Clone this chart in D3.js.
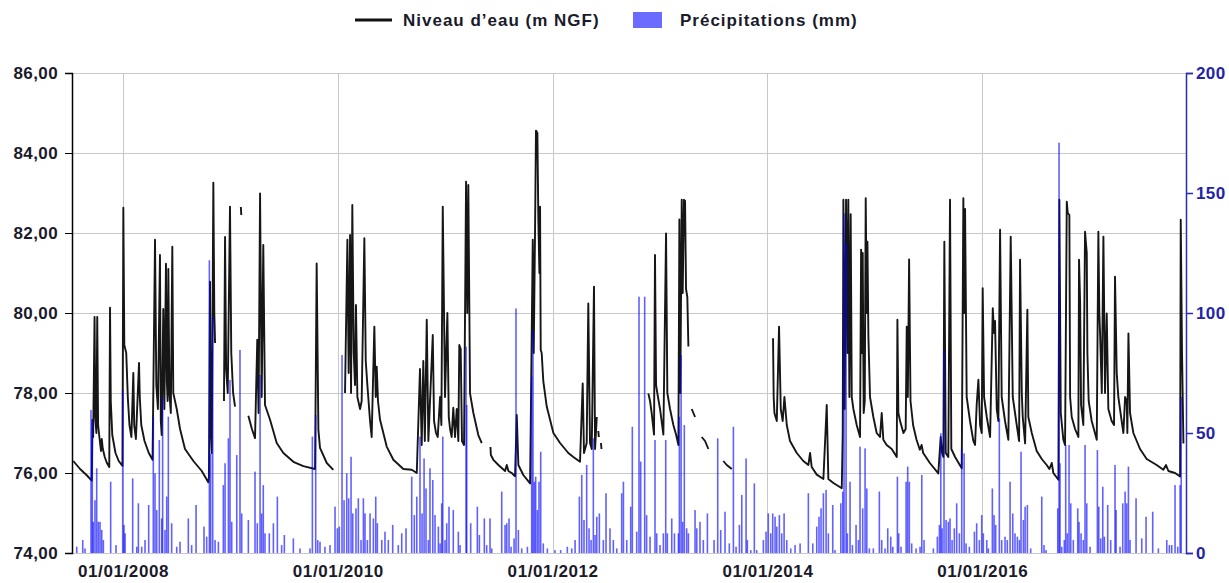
<!DOCTYPE html>
<html>
<head>
<meta charset="utf-8">
<script src="https://cdn.jsdelivr.net/npm/d3@7/dist/d3.min.js"></script>
<style>
    html, body { margin: 0; padding: 0; background: #fff; }
    #graph { width: 1229px; height: 583px; }
    text { font-family: 'Liberation Sans', Arial, sans-serif; font-weight: bold; }
</style>
</head>
<body>
<div id="graph"></div>
<script>
// x values are decimal years
const yearTicks = [2008, 2010, 2012, 2014, 2016];
const levelTicks = [74, 76, 78, 80, 82, 84, 86];
const rainTicks = [0, 50, 100, 150, 200];
const legendLabels = ['Niveau d\u2019eau (m NGF)', 'Pr\u00e9cipitations (mm)'];

// water level (m NGF), null = gap in the record
const levelData = [
    [2007.537,76.30],[2007.60,76.10],[2007.66,75.95],[2007.709,75.81],
    [2007.716,77.33],[2007.722,76.9],[2007.735,79.90],[2007.742,77.4],[2007.752,77.0],[2007.760,79.90],[2007.768,77.2],
    [2007.780,76.9],[2007.795,76.55],[2007.802,76.85],[2007.812,76.6],[2007.83,76.4],[2007.85,76.25],[2007.872,76.15],
    [2007.879,80.13],[2007.886,77.8],[2007.90,76.95],[2007.93,76.5],[2007.96,76.3],[2007.995,76.18],
    [2008.003,82.63],[2008.012,79.2],[2008.030,79.0],[2008.045,77.87],[2008.06,77.2],[2008.078,76.9],[2008.096,78.50],
    [2008.104,77.2],[2008.12,76.85],[2008.149,78.75],[2008.156,77.9],[2008.17,77.2],[2008.20,76.8],[2008.24,76.5],[2008.275,76.33],
    [2008.298,81.83],[2008.31,78.2],[2008.325,77.6],[2008.344,81.45],[2008.352,77.3],[2008.360,76.95],[2008.375,80.1],
    [2008.385,77.6],[2008.400,81.23],[2008.408,78.3],[2008.415,77.8],[2008.422,81.1],[2008.432,78.0],[2008.445,77.5],
    [2008.459,81.66],[2008.468,78.0],[2008.50,77.6],[2008.531,77.1],[2008.577,76.6],[2008.655,76.3],[2008.733,76.05],[2008.794,75.77],
    [2008.800,75.9],[2008.810,80.78],[2008.818,77.0],[2008.826,76.5],[2008.841,83.26],[2008.850,80.0],[2008.857,79.25],
    null,
    [2008.940,77.8],[2008.950,81.9],[2008.960,78.6],[2008.975,78.0],[2008.996,82.66],[2009.008,79.0],[2009.025,78.0],[2009.043,77.66],
    null,
    [2009.097,82.65],[2009.101,82.45],
    null,
    [2009.167,77.43],[2009.20,77.1],[2009.229,76.87],[2009.250,79.33],[2009.262,77.5],[2009.276,82.99],[2009.291,77.9],
    [2009.306,81.7],[2009.322,77.7],[2009.369,77.33],[2009.431,76.75],[2009.493,76.5],[2009.586,76.28],[2009.679,76.17],
    [2009.788,76.1],[2009.803,81.24],[2009.819,77.08],[2009.834,76.63],[2009.897,76.25],[2009.958,76.08],
    null,
    [2010.067,78.0],[2010.089,81.83],[2010.101,78.5],[2010.114,81.95],[2010.123,78.0],[2010.135,82.7],[2010.148,79.0],
    [2010.160,78.2],[2010.169,80.2],[2010.182,77.9],[2010.207,77.6],[2010.222,77.8],[2010.247,81.87],[2010.260,78.8],
    [2010.275,78.2],[2010.300,77.3],[2010.315,76.9],[2010.340,79.66],[2010.353,77.9],[2010.362,78.66],[2010.374,77.8],
    [2010.393,77.33],[2010.455,76.66],[2010.517,76.33],[2010.610,76.1],[2010.688,76.08],[2010.735,76.0],
    [2010.765,78.6],[2010.781,76.7],[2010.796,78.8],[2010.810,76.8],[2010.828,79.83],[2010.843,76.8],[2010.884,79.45],
    [2010.896,77.3],[2010.914,77.0],[2010.930,76.9],[2010.952,77.9],[2010.964,77.2],[2010.977,82.66],[2010.998,77.9],
    [2011.020,80.0],[2011.033,77.4],[2011.045,77.1],[2011.060,76.9],[2011.075,77.63],[2011.091,76.9],[2011.107,77.6],
    [2011.122,76.8],[2011.131,79.2],[2011.144,79.1],[2011.156,76.8],[2011.175,76.7],[2011.194,83.28],[2011.205,80.0],
    [2011.215,83.2],[2011.231,77.99],[2011.262,77.5],[2011.308,76.95],[2011.340,76.75],
    null,
    [2011.421,76.65],[2011.425,76.45],[2011.448,76.33],[2011.495,76.2],[2011.557,76.05],[2011.573,76.2],[2011.588,76.05],
    [2011.619,76.0],[2011.650,75.92],[2011.666,77.45],[2011.681,76.2],[2011.727,75.95],[2011.790,75.74],[2011.815,81.83],
    [2011.824,79.0],[2011.836,82.0],[2011.845,84.56],[2011.858,84.5],[2011.867,82.33],[2011.877,81.0],[2011.883,82.66],
    [2011.889,79.08],[2011.898,79.0],[2011.913,78.3],[2011.945,77.66],[2012.007,77.0],[2012.069,76.75],[2012.146,76.5],
    [2012.193,76.4],[2012.255,76.28],[2012.280,78.24],[2012.292,76.5],[2012.317,76.75],[2012.332,80.24],[2012.348,76.75],
    [2012.364,76.6],[2012.385,80.66],[2012.395,76.6],[2012.411,77.4],
    null,
    [2012.425,77.05],[2012.430,76.9],
    null,
    [2012.450,76.75],[2012.455,76.6],
    null,
    [2012.891,77.99],[2012.907,77.8],[2012.922,77.5],[2012.944,76.96],[2012.953,81.45],[2012.963,78.2],[2012.975,77.99],
    [2013.000,77.6],[2013.031,76.96],[2013.056,81.99],[2013.068,78.0],[2013.093,77.6],[2013.124,77.2],[2013.149,76.96],
    [2013.171,76.7],[2013.180,82.34],[2013.189,78.0],[2013.202,82.83],[2013.211,80.5],[2013.223,82.83],[2013.233,82.8],
    [2013.242,80.6],[2013.254,80.4],[2013.264,79.16],
    null,
    [2013.295,77.6],[2013.326,77.4],
    null,
    [2013.388,76.9],[2013.419,76.8],[2013.450,76.6],
    null,
    [2013.589,76.3],[2013.621,76.2],[2013.668,76.1],
    null,
    [2014.052,79.37],[2014.058,77.9],[2014.065,77.5],[2014.087,77.3],[2014.108,79.66],[2014.124,77.6],[2014.142,77.3],
    [2014.158,77.9],[2014.180,77.2],[2014.210,76.8],[2014.273,76.5],[2014.334,76.3],[2014.381,76.2],[2014.397,76.5],
    [2014.412,76.15],[2014.459,75.96],[2014.521,75.85],[2014.552,77.7],[2014.567,75.85],[2014.614,75.75],[2014.692,75.62],
    [2014.701,77.0],[2014.707,82.83],[2014.719,77.6],[2014.732,82.83],[2014.744,79.0],[2014.753,82.83],[2014.763,77.9],
    [2014.775,82.47],[2014.785,77.9],[2014.800,77.6],[2014.831,77.2],[2014.862,76.9],[2014.872,81.58],[2014.881,79.0],
    [2014.887,81.5],[2014.896,77.5],[2014.906,77.8],[2014.915,82.87],[2014.925,80.0],[2014.931,81.78],[2014.940,79.4],
    [2014.955,77.9],[2014.986,77.4],[2015.017,77.0],[2015.048,76.9],[2015.064,77.5],[2015.079,76.83],[2015.110,76.7],
    [2015.157,76.6],[2015.204,76.4],[2015.210,79.83],[2015.219,77.5],[2015.235,77.3],[2015.266,77.0],[2015.287,77.1],
    [2015.297,79.66],[2015.307,77.9],[2015.319,81.34],[2015.332,77.8],[2015.356,77.2],[2015.388,76.83],[2015.419,76.58],
    [2015.435,76.7],[2015.450,76.5],[2015.512,76.25],[2015.591,75.99],[2015.613,76.9],[2015.626,76.5],[2015.638,76.4],
    [2015.647,81.78],[2015.660,76.5],[2015.684,76.4],[2015.700,82.83],[2015.712,76.6],[2015.747,76.4],[2015.809,76.12],
    [2015.824,82.87],[2015.833,80.0],[2015.840,82.6],[2015.855,77.9],[2015.886,77.3],[2015.917,76.8],[2015.933,76.7],
    [2015.948,77.7],[2015.964,78.33],[2015.980,77.2],[2015.995,77.0],[2016.004,80.62],[2016.017,77.9],[2016.042,77.4],
    [2016.073,76.9],[2016.098,80.12],[2016.110,79.5],[2016.119,79.8],[2016.135,77.6],[2016.150,77.3],[2016.166,82.08],
    [2016.181,77.9],[2016.212,77.3],[2016.243,76.83],[2016.265,81.91],[2016.284,77.9],[2016.321,77.2],[2016.343,76.8],
    [2016.352,81.33],[2016.368,78.0],[2016.377,77.4],[2016.399,76.74],[2016.420,80.08],[2016.429,77.4],[2016.461,77.0],
    [2016.507,76.55],[2016.554,76.35],[2016.600,76.2],[2016.625,76.1],[2016.647,76.25],[2016.662,76.0],[2016.709,75.83],
    [2016.718,82.83],[2016.731,77.5],[2016.755,76.83],[2016.771,76.7],[2016.787,82.78],[2016.796,82.5],[2016.811,82.45],
    [2016.818,77.9],[2016.833,77.4],[2016.864,77.1],[2016.895,76.9],[2016.901,81.33],[2016.911,80.3],[2016.920,77.7],
    [2016.941,77.2],[2016.957,82.03],[2016.973,81.5],[2016.979,79.0],[2016.991,77.8],[2017.019,77.3],[2017.066,76.83],
    [2017.081,82.03],[2017.090,80.0],[2017.097,79.49],[2017.113,78.0],[2017.128,81.91],[2017.143,78.0],[2017.159,79.99],
    [2017.174,77.6],[2017.205,77.3],[2017.227,77.2],[2017.236,80.91],[2017.252,78.5],[2017.267,77.9],[2017.298,77.3],
    [2017.314,77.0],[2017.330,77.9],[2017.345,77.8],[2017.351,77.0],[2017.361,79.49],[2017.376,77.5],[2017.407,77.0],
    [2017.469,76.6],[2017.531,76.35],[2017.624,76.2],[2017.686,76.08],[2017.711,76.2],[2017.733,76.05],[2017.795,76.0],
    [2017.842,75.91],[2017.848,82.33],[2017.860,79.0],[2017.873,76.74]
];

// daily rain (mm)
const rainData = [
    [2007.569,2.6],[2007.625,5.4],[2007.646,1.9],[2007.702,59.6],[2007.714,55.4],[2007.723,13],[2007.739,22],[2007.755,35.3],
    [2007.770,13],[2007.786,13],[2007.802,9.6],[2007.817,5.4],[2007.885,29.7],[2007.935,3.3],[2007.997,67.9],
    [2008.009,11.7],[2008.019,8.2],[2008.090,31.1],[2008.128,2.6],[2008.143,20.7],[2008.174,2.6],[2008.205,5.4],[2008.239,20],
    [2008.282,56.8],[2008.298,33.2],[2008.314,17.9],[2008.338,47.1],[2008.360,14.4],[2008.369,65.1],[2008.391,9.6],
    [2008.407,23.5],[2008.422,56.8],[2008.453,12.4],[2008.500,2.6],[2008.531,4.7],[2008.608,14.4],[2008.639,3.3],[2008.680,20],
    [2008.754,11],[2008.779,6.8],[2008.804,122],[2008.816,41.5],[2008.835,98.5],[2008.857,5.4],[2008.888,4.7],[2008.934,28.3],
    [2008.950,37.4],[2008.981,47.8],[2008.996,72.1],
    [2009.012,13],[2009.059,40.8],[2009.089,84.6],[2009.105,16.5],[2009.167,13.75],[2009.229,33.9],[2009.250,12.4],
    [2009.276,74.2],[2009.291,16.5],[2009.306,28.3],[2009.322,8.2],[2009.362,8.2],[2009.400,12.4],[2009.437,23.5],
    [2009.477,3.3],[2009.502,7.5],[2009.586,6.1],[2009.648,1.9],[2009.741,1.9],[2009.763,48.5],[2009.794,57.5],
    [2009.813,5.4],[2009.834,4.7],[2009.880,2.6],[2009.927,3.3],[2009.974,19.3],[2009.996,10.3],
    [2010.014,11],[2010.039,82.5],[2010.058,22],[2010.083,33.2],[2010.101,22.8],[2010.123,40.1],[2010.139,16.5],
    [2010.169,18.6],[2010.191,22.8],[2010.216,5.4],[2010.238,22.8],[2010.253,16.5],[2010.275,5.4],[2010.300,16.5],
    [2010.331,14.4],[2010.353,23.5],[2010.368,12.4],[2010.409,5.4],[2010.439,8.9],[2010.470,5.4],[2010.511,11.7],
    [2010.563,3.3],[2010.595,8.2],[2010.635,10.3],[2010.688,31.8],[2010.712,15.8],[2010.735,23.5],[2010.765,48.5],
    [2010.784,16.5],[2010.803,39.4],[2010.821,26.9],[2010.843,5.4],[2010.858,35.3],[2010.884,30.4],[2010.905,15.8],
    [2010.936,11],[2010.952,4],[2010.967,20.7],[2010.977,48.5],[2010.998,5.4],
    [2011.014,12.4],[2011.035,19.3],[2011.075,17.9],[2011.122,8.9],[2011.138,3.3],[2011.194,86],[2011.200,61.7],
    [2011.237,12.4],[2011.299,19.3],[2011.318,7.5],[2011.364,14.4],[2011.386,3.3],[2011.417,14.4],[2011.433,1.9],
    [2011.526,25.6],[2011.557,11.7],[2011.573,12.4],[2011.594,14.4],[2011.613,2.6],[2011.641,6.1],[2011.659,101.9],
    [2011.681,9.6],[2011.712,1.9],[2011.765,2.6],[2011.805,73.5],[2011.817,92.9],[2011.830,29.7],[2011.842,31.8],
    [2011.858,17.9],[2011.873,29.7],[2011.889,42.2],[2011.913,4],[2011.951,1.9],
    [2012.022,1.2],[2012.075,1.2],[2012.137,2.6],[2012.178,1.9],[2012.209,5.4],[2012.249,23.5],[2012.271,32.5],
    [2012.292,13.75],[2012.317,36.7],[2012.339,10.3],[2012.358,5.4],[2012.379,47.8],[2012.395,7.5],[2012.411,15.1],
    [2012.435,16.5],[2012.472,5.4],[2012.497,24.9],[2012.534,10.3],[2012.565,5.4],[2012.597,1.9],[2012.643,24.9],
    [2012.659,29.7],[2012.690,5.4],[2012.727,19.3],[2012.742,52.6],[2012.783,8.9],[2012.804,106.8],[2012.820,38.1],
    [2012.857,106.8],[2012.875,15.8],[2012.907,6.8],[2012.953,47.1],[2012.969,8.2],
    [2013.000,3.3],[2013.031,8.2],[2013.053,47.1],[2013.068,8.2],[2013.109,14.4],[2013.134,8.2],[2013.171,8.2],
    [2013.180,56.8],[2013.196,82.5],[2013.211,13],[2013.226,53.3],[2013.248,10.3],[2013.264,8.2],[2013.326,17.9],
    [2013.342,10.3],[2013.372,13],[2013.403,5.4],[2013.441,16.5],[2013.503,5.4],[2013.537,47.8],[2013.565,9.6],
    [2013.605,17.2],[2013.645,4],[2013.683,52.6],[2013.708,2.6],[2013.739,11.7],[2013.761,24.2],[2013.801,39.4],
    [2013.813,5.4],[2013.845,1.2],[2013.878,29],[2013.900,1.2],[2013.962,5.4],[2013.987,8.9],
    [2014.008,16.5],[2014.031,8.2],[2014.049,16.5],[2014.071,15.1],[2014.087,11],[2014.111,15.8],[2014.133,8.2],
    [2014.155,16.5],[2014.180,5.4],[2014.217,1.9],[2014.257,3.3],[2014.304,4],[2014.381,24.9],[2014.422,4],[2014.459,11],
    [2014.480,15.1],[2014.499,18.6],[2014.521,24.9],[2014.546,26.3],[2014.567,8.2],[2014.608,20],[2014.629,1.2],
    [2014.683,20.7],[2014.701,25.6],[2014.713,141.5],[2014.732,129],[2014.744,8.2],[2014.769,29.7],[2014.791,3.3],
    [2014.825,11.7],[2014.847,5.4],[2014.862,44.3],[2014.887,18.6],[2014.909,43.6],[2014.925,26.9],[2014.949,1.9],
    [2014.986,1.9],
    [2015.042,25.6],[2015.064,5.4],[2015.095,1.9],[2015.120,10.3],[2015.148,6.8],[2015.167,2.6],[2015.210,31.8],
    [2015.222,8.2],[2015.244,2.6],[2015.291,29.7],[2015.306,36],[2015.321,29.7],[2015.343,4],[2015.384,1.9],[2015.421,2.6],
    [2015.437,32.5],[2015.458,5.4],[2015.545,1.9],[2015.582,6.8],[2015.601,11.7],[2015.614,49.9],[2015.626,10.3],
    [2015.644,84.6],[2015.663,13.75],[2015.684,13],[2015.700,14.4],[2015.719,5.4],[2015.740,10.3],[2015.762,20.7],
    [2015.787,8.2],[2015.809,43.6],[2015.831,41.5],[2015.849,4],[2015.880,2.6],[2015.927,8.9],[2015.948,12.4],
    [2015.973,5.4],[2015.995,15.8],
    [2016.010,8.2],[2016.042,5.4],[2016.057,1.9],[2016.094,26.9],[2016.110,15.8],[2016.125,11.7],[2016.159,56.1],
    [2016.181,5.4],[2016.212,6.8],[2016.233,5.4],[2016.259,29.7],[2016.284,16.5],[2016.305,8.2],[2016.327,6.8],
    [2016.346,5.4],[2016.361,42.2],[2016.383,13.75],[2016.399,19.3],[2016.420,20],[2016.451,1.9],[2016.554,23.5],
    [2016.575,3.3],[2016.594,1.2],[2016.703,18.6],[2016.715,171],[2016.724,37.4],[2016.740,2.6],[2016.764,5.4],
    [2016.777,45],[2016.792,8.2],[2016.808,45],[2016.824,20.7],[2016.848,5.4],[2016.889,18.6],[2016.901,13],
    [2016.920,8.2],[2016.941,5.4],[2016.957,45],[2016.973,20.7],
    [2017.004,2.6],[2017.072,42.9],[2017.085,19.3],[2017.103,6.1],[2017.122,27.6],[2017.137,6.8],[2017.168,20],
    [2017.196,5.4],[2017.236,36.7],[2017.246,17.9],[2017.283,2.6],[2017.308,20.7],[2017.330,25.6],[2017.345,20.7],
    [2017.361,36],[2017.376,5.4],[2017.432,22.8],[2017.485,6.1],[2017.525,15.1],[2017.587,17.2],[2017.640,1.9],
    [2017.718,5.4],[2017.742,3.3],[2017.764,3.3],[2017.795,28.3],[2017.820,2.6],[2017.842,28.3],[2017.852,65]
];

class LevelChart {
    constructor() {
        this.div = document.getElementById('graph');
        this.width = 1229;
        this.height = 583;
        this.margin = {top: 73, right: 43, bottom: 30, left: 72};

        this.svg = d3.select('#graph').append('svg')
                    .attr('width', this.width)
                    .attr('height', this.height);

        const m = this.margin;
        this.x = d3.scaleLinear()
                    .domain([2007.525, 2017.897])
                    .range([m.left, this.width - m.right]);
        this.yLevel = d3.scaleLinear()
                    .domain([74, 86])
                    .range([this.height - m.bottom, m.top]);
        this.yRain = d3.scaleLinear()
                    .domain([0, 200])
                    .range([this.height - m.bottom, m.top]);

        this.drawGrid();
        this.drawLine();
        this.drawBars();
        this.drawAxes();
        this.drawLegend();
    }

    drawGrid() {
        const g = this.svg.append('g').attr('class', 'grid');
        g.selectAll('.hgrid').data(levelTicks).enter().append('line')
            .attr('x1', this.x.range()[0]).attr('x2', this.x.range()[1])
            .attr('y1', d => this.yLevel(d) + 0.5).attr('y2', d => this.yLevel(d) + 0.5)
            .attr('stroke', '#c8c8c8');
        g.selectAll('.vgrid').data(yearTicks).enter().append('line')
            .attr('x1', d => Math.round(this.x(d)) + 0.5).attr('x2', d => Math.round(this.x(d)) + 0.5)
            .attr('y1', this.yLevel.range()[1]).attr('y2', this.yLevel.range()[0])
            .attr('stroke', '#c8c8c8');
    }

    drawBars() {
        const base = this.yRain(0);
        this.svg.append('g').attr('class', 'bars')
            .selectAll('rect').data(rainData).enter().append('rect')
            .attr('x', d => this.x(d[0]) - 0.8)
            .attr('width', 1.6)
            .attr('y', d => this.yRain(d[1]))
            .attr('height', d => base - this.yRain(d[1]))
            .attr('fill', '#0000ff')
            .attr('fill-opacity', 0.62);
    }

    drawLine() {
        const line = d3.line()
            .defined(d => d !== null)
            .x(d => this.x(d[0]))
            .y(d => this.yLevel(d[1]));
        this.svg.append('path')
            .datum(levelData)
            .attr('d', line)
            .attr('fill', 'none')
            .attr('stroke', '#161616')
            .attr('stroke-width', 1.9)
            .attr('stroke-linejoin', 'round');
    }

    drawAxes() {
        const left = this.svg.append('g')
            .attr('transform', 'translate(' + this.x.range()[0] + ',0)')
            .call(d3.axisLeft(this.yLevel)
                .tickValues(levelTicks)
                .tickSize(7)
                .tickPadding(7)
                .tickFormat(d => d.toFixed(2).replace('.', ',')));
        left.select('.domain').attr('stroke', '#000').attr('stroke-width', 1.5);
        left.selectAll('text').attr('font-size', 17).attr('letter-spacing', 0.4).attr('fill', '#1a1a2a');

        const right = this.svg.append('g')
            .attr('transform', 'translate(' + this.x.range()[1] + ',0)')
            .call(d3.axisRight(this.yRain)
                .tickValues(rainTicks)
                .tickSize(7)
                .tickPadding(3));
        right.select('.domain').attr('stroke', '#2b2bb0').attr('stroke-width', 1.5);
        right.selectAll('.tick line').attr('stroke', '#2b2bb0').attr('stroke-width', 1.5);
        right.selectAll('text').attr('font-size', 17).attr('letter-spacing', 0.4).attr('fill', '#2323a8');

        const bottom = this.svg.append('g')
            .attr('transform', 'translate(0,' + this.yLevel.range()[0] + ')')
            .call(d3.axisBottom(this.x)
                .tickValues(yearTicks)
                .tickSize(0)
                .tickPadding(12)
                .tickFormat(d => '01/01/' + d));
        bottom.select('.domain').remove();
        bottom.selectAll('text').attr('font-size', 17).attr('letter-spacing', 0.6).attr('fill', '#1a1a2a');
    }

    drawLegend() {
        const g = this.svg.append('g').attr('class', 'legend');
        g.append('line')
            .attr('x1', 355).attr('x2', 392).attr('y1', 20).attr('y2', 20)
            .attr('stroke', '#111').attr('stroke-width', 3);
        g.append('text').attr('x', 403).attr('y', 26)
            .attr('font-size', 17).attr('letter-spacing', 1).attr('fill', '#1a1a2a')
            .text(legendLabels[0]);
        g.append('rect')
            .attr('x', 633).attr('y', 12).attr('width', 29).attr('height', 16)
            .attr('fill', '#6b6bff');
        g.append('text').attr('x', 680).attr('y', 26)
            .attr('font-size', 17).attr('letter-spacing', 1).attr('fill', '#1a1a2a')
            .text(legendLabels[1]);
    }
}

const chart = new LevelChart();
</script>
</body>
</html>
